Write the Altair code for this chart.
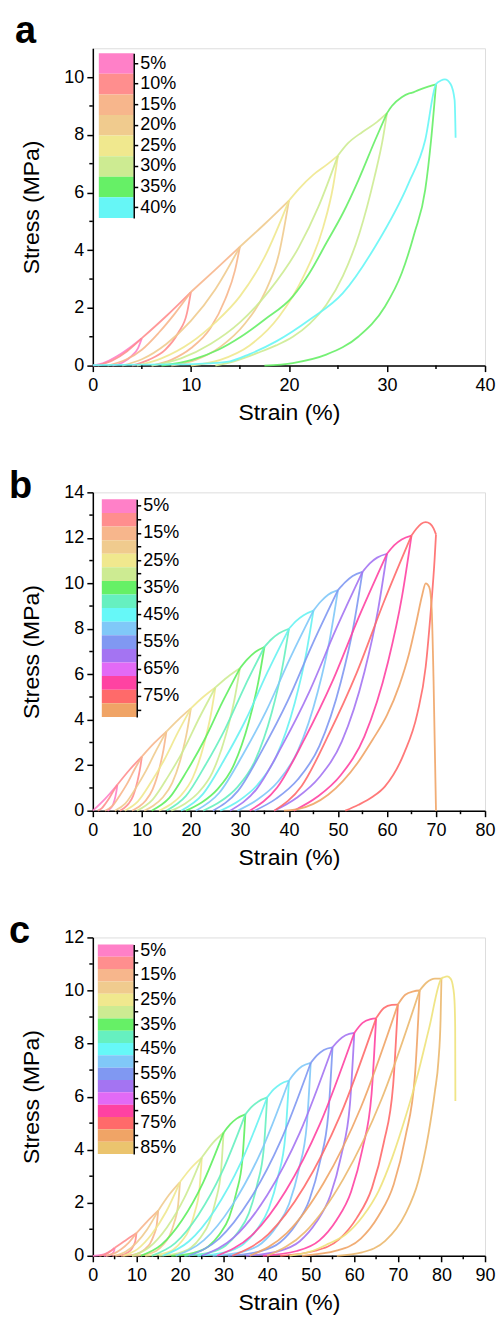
import json
import altair as alt
import pandas as pd

FONT = "Liberation Sans"

# ---------------- Panel a data ----------------
A_LEG_LABELS = ["5%", "10%", "15%", "20%", "25%", "30%", "35%", "40%"]
A_LEG_COLORS = ["#FF80C8", "#FF8E8E", "#F7B68C", "#F0CB8E", "#F0E88E", "#CDEB92", "#66F066", "#66F6F6"]
A_CYCLES = [5, 10, 15, 20, 25, 30, 35]
A_CURVE_COLORS = ["#FF80C8", "#FF8E8E", "#F7B68C", "#F0CB8E", "#F0E88E", "#CDEB92", "#66EE66"]
A_FINAL_COLOR = "#66F6F6"
A_ENV = {
    5: [[0, 0], [1, 0.08], [2.5, 0.33], [4, 0.68], [5, 0.95]],
    10: [[5, 0.95], [7.5, 1.72], [10, 2.55]],
    15: [[10, 2.55], [12.5, 3.33], [15, 4.12]],
    20: [[15, 4.12], [17.5, 4.9], [20, 5.72]],
    25: [[20, 5.72], [21, 6.12], [22.5, 6.62], [24, 7.0], [25, 7.28]],
    30: [[25, 7.28], [26, 7.7], [27.5, 8.1], [29, 8.45], [30, 8.75]],
    35: [[30, 8.75], [30.5, 9.0], [31.5, 9.3], [32.2, 9.43], [32.5, 9.45], [33.2, 9.55], [34.2, 9.67], [35, 9.75]],
}
A_RELOAD = {
    10: [[0.5, 0], [2, 0.18], [3.5, 0.5], [5, 0.95]],
    15: [[1.5, 0], [3.4, 0.21], [5, 0.55], [6.7, 1.13], [8.4, 1.82], [10, 2.55]],
    20: [[3, 0], [5, 0.22], [7.5, 0.75], [10, 1.55], [12.5, 2.65], [15, 4.12]],
    25: [[4.5, 0], [7, 0.25], [10, 0.8], [12.5, 1.5], [15, 2.4], [17.5, 3.75], [20, 5.72]],
    30: [[6, 0], [9, 0.25], [12, 0.75], [15, 1.5], [18, 2.6], [21, 4.1], [23, 5.5], [25, 7.28]],
    35: [[7, 0], [10.1, 0.2], [12.8, 0.55], [15.1, 1.0], [17.5, 1.59], [20.4, 2.4], [22.1, 3.21],
         [23.8, 4.24], [25.5, 5.28], [27.1, 6.44], [28.8, 7.82], [30, 8.75]],
}
A_UNLOAD = {
    5: [[2, 0], [3, 0.1], [4, 0.35], [4.6, 0.6], [5, 0.95]],
    10: [[4, 0], [5.7, 0.2], [7.4, 0.55], [8.7, 1.13], [9.6, 1.82], [10, 2.55]],
    15: [[6, 0], [8, 0.2], [10, 0.6], [12, 1.3], [13.5, 2.3], [14.5, 3.3], [15, 4.12]],
    20: [[8, 0], [10.5, 0.2], [13, 0.65], [15.5, 1.45], [17.5, 2.5], [19, 3.9], [20, 5.72]],
    25: [[10, 0], [13, 0.2], [16, 0.7], [19, 1.7], [21.5, 3.1], [23.5, 4.8], [24.5, 6.2], [25, 7.28]],
    30: [[12.5, 0], [14.4, 0.15], [16.8, 0.44], [18.7, 0.7], [20.4, 1.0], [22.1, 1.45], [23.8, 2.1],
         [25.5, 3.1], [27.2, 4.6], [28.7, 6.5], [29.6, 7.9], [30, 8.75]],
    35: [[17.5, 0], [20.4, 0.09], [23.8, 0.38], [27.1, 1.01], [29.8, 2.05], [31.5, 3.2], [32.8, 4.59],
         [33.9, 6.09], [34.5, 7.82], [35, 9.75]],
}
A_FINAL = [[0, 0.02], [8, 0.04], [12, 0.08], [14, 0.15], [16, 0.4], [18.7, 0.84], [22.1, 1.59], [25.5, 2.51],
           [28.8, 4.13], [32.2, 6.32], [33.9, 7.82], [35, 9.75], [35.5, 9.88], [35.9, 9.92], [36.5, 9.75],
           [36.9, 9.2], [37.0, 7.9]]

# ---------------- Panel b data ----------------
B_LEG_LABELS = ["5%", "10%", "15%", "20%", "25%", "30%", "35%", "40%", "45%", "50%", "55%", "60%",
                "65%", "70%", "75%", "80%"]
B_LEG_COLORS = ["#FF80C8", "#FF8E8E", "#F7B68C", "#F0CB8E", "#F0E88E", "#CDEB92", "#66F066", "#66F0C0",
                "#66F8F8", "#80C8F8", "#8098F2", "#A474F2", "#E26AF6", "#FF42A2", "#FF6A6A", "#F0A466"]
B_LEG_SHOWN = ["5%", "15%", "25%", "35%", "45%", "55%", "65%", "75%"]
B_CYCLES = [5, 10, 15, 20, 25, 30, 35, 40, 45, 50, 55, 60, 65, 70]
B_CURVE_COLORS = ["#FF80C8", "#FF8E8E", "#F7B68C", "#F0CB8E", "#F0E88E", "#CDEB92", "#5EEE5E", "#66F0C0",
                  "#66F2F2", "#80C8F8", "#8098F2", "#A474F2", "#FF42A2", "#FF6A6A"]
B_FINAL_COLOR = "#F0A466"
B_ENV = {
    5: [[0, 0], [2.5, 0.52], [5, 1.14]],
    10: [[5, 1.14], [7.5, 1.8], [10, 2.38]],
    15: [[10, 2.38], [12.5, 2.97], [15, 3.48]],
    20: [[15, 3.48], [17.5, 4.02], [20, 4.5]],
    25: [[20, 4.5], [22.5, 5.0], [25, 5.42]],
    30: [[25, 5.42], [27.5, 5.88], [30, 6.26]],
    35: [[30, 6.26], [31.5, 6.65], [33.2, 6.99], [35, 7.2]],
    40: [[35, 7.2], [36.5, 7.55], [38, 7.8], [40, 8.0]],
    45: [[40, 8.0], [41.5, 8.35], [43, 8.6], [45, 8.8]],
    50: [[45, 8.8], [46.5, 9.2], [48, 9.5], [50, 9.7]],
    55: [[50, 9.7], [51.5, 10.05], [53, 10.32], [55, 10.5]],
    60: [[55, 10.5], [56.5, 10.88], [58, 11.13], [60, 11.3]],
    65: [[60, 11.3], [61.5, 11.68], [63, 11.93], [65, 12.1]],
    70: [[65, 12.1], [66, 12.4], [67, 12.62], [67.9, 12.69], [68.8, 12.62], [69.5, 12.42], [70, 12.15]],
}
B_RELOAD = {
    10: [[1, 0], [1.8, 0.1], [2.6, 0.32], [3.4, 0.57], [4.2, 0.87], [5, 1.14]],
    15: [[2.5, 0], [4, 0.21], [5.5, 0.67], [7, 1.19], [8.5, 1.81], [10, 2.38]],
    20: [[4.5, 0], [6.6, 0.31], [8.7, 0.97], [10.8, 1.74], [12.9, 2.64], [15, 3.48]],
    25: [[6.5, 0], [9.2, 0.41], [11.9, 1.26], [14.6, 2.25], [17.3, 3.42], [20, 4.5]],
    30: [[9, 0], [12.2, 0.49], [15.4, 1.52], [18.6, 2.71], [21.8, 4.12], [25, 5.42]],
    35: [[12, 0], [15.6, 0.56], [19.2, 1.75], [22.8, 3.13], [26.4, 4.76], [30, 6.26]],
    40: [[15, 0], [19, 0.65], [23, 2.02], [27, 3.6], [31, 5.47], [35, 7.2]],
    45: [[18, 0], [22.4, 0.72], [26.8, 2.24], [31.2, 4.0], [35.6, 6.08], [40, 8.0]],
    50: [[21, 0], [25.8, 0.79], [30.6, 2.46], [35.4, 4.4], [40.2, 6.69], [45, 8.8]],
    55: [[24.5, 0], [29.6, 0.87], [34.7, 2.72], [39.8, 4.85], [44.9, 7.37], [50, 9.7]],
    60: [[28, 0], [33.4, 0.95], [38.8, 2.94], [44.2, 5.25], [49.6, 7.98], [55, 10.5]],
    65: [[32, 0], [37.6, 1.02], [43.2, 3.16], [48.8, 5.65], [54.4, 8.59], [60, 11.3]],
    70: [[37, 0], [42.6, 1.09], [48.2, 3.39], [53.8, 6.05], [59.4, 9.2], [65, 12.1]],
}
B_UNLOAD = {
    5: [[3, 0], [3.4, 0.06], [3.8, 0.15], [4.2, 0.31], [4.6, 0.62], [4.84, 0.89], [5, 1.14]],
    10: [[5.5, 0], [6.4, 0.12], [7.3, 0.31], [8.2, 0.64], [9.1, 1.29], [9.64, 1.86], [10, 2.38]],
    15: [[8, 0], [9.4, 0.17], [10.8, 0.45], [12.2, 0.94], [13.6, 1.88], [14.44, 2.71], [15, 3.48]],
    20: [[10.5, 0], [12.4, 0.23], [14.3, 0.59], [16.2, 1.22], [18.1, 2.43], [19.24, 3.51], [20, 4.5]],
    25: [[13.5, 0], [15.8, 0.27], [18.1, 0.7], [20.4, 1.46], [22.7, 2.93], [24.08, 4.23], [25, 5.42]],
    30: [[16, 0], [18.8, 0.31], [21.6, 0.81], [24.4, 1.69], [27.2, 3.38], [28.88, 4.88], [30, 6.26]],
    35: [[19, 0], [22.2, 0.36], [25.4, 0.94], [28.6, 1.94], [31.8, 3.89], [33.72, 5.62], [35, 7.2]],
    40: [[22.5, 0], [26, 0.4], [29.5, 1.04], [33, 2.16], [36.5, 4.32], [38.6, 6.24], [40, 8.0]],
    45: [[26, 0], [29.8, 0.44], [33.6, 1.14], [37.4, 2.38], [41.2, 4.75], [43.48, 6.86], [45, 8.8]],
    50: [[29.5, 0], [33.6, 0.49], [37.7, 1.26], [41.8, 2.62], [45.9, 5.24], [48.36, 7.57], [50, 9.7]],
    55: [[33, 0], [37.4, 0.53], [41.8, 1.37], [46.2, 2.84], [50.6, 5.67], [53.24, 8.19], [55, 10.5]],
    60: [[37, 0], [41.6, 0.57], [46.2, 1.47], [50.8, 3.05], [55.4, 6.1], [58.16, 8.81], [60, 11.3]],
    65: [[41, 0], [45.8, 0.61], [50.6, 1.57], [55.4, 3.27], [60.2, 6.53], [63.08, 9.44], [65, 12.1]],
    70: [[51.5, 0], [54.2, 0.26], [57, 0.6], [59.6, 1.07], [63.5, 2.53], [66.2, 4.28], [67.9, 6.33],
         [69, 8.96], [69.7, 11], [70, 12.15]],
}
B_FINAL = [[39, 0], [42, 0.08], [45, 0.3], [48, 0.7], [51, 1.3], [54, 2.1], [57, 3.1], [60, 4.2],
           [62.5, 5.5], [64.5, 6.9], [66, 8.3], [67.2, 9.5], [67.9, 10.0], [68.6, 9.84], [69.1, 8.96],
           [69.5, 5.75], [70, 0]]

# ---------------- Panel c data ----------------
C_LEG_LABELS = ["5%", "10%", "15%", "20%", "25%", "30%", "35%", "40%", "45%", "50%", "55%", "60%",
                "65%", "70%", "75%", "80%", "85%"]
C_LEG_COLORS = ["#FF80C8", "#FF8E8E", "#F7B68C", "#F0CB8E", "#F0E88E", "#CDEB92", "#66F066", "#66F0C0",
                "#66F8F8", "#80C8F8", "#8098F2", "#A474F2", "#E26AF6", "#FF42A2", "#FF6A6A", "#F0A466",
                "#EBC46E"]
C_LEG_SHOWN = ["5%", "15%", "25%", "35%", "45%", "55%", "65%", "75%", "85%"]
C_CYCLES = [5, 10, 15, 20, 25, 30, 35, 40, 45, 50, 55, 60, 65, 70, 75, 80]
C_CURVE_COLORS = ["#FF80C8", "#FF8E8E", "#F7B68C", "#F0CB8E", "#F0E88E", "#CDEB92", "#5EEE5E", "#66F0C0",
                  "#66F2F2", "#80C8F8", "#8098F2", "#A474F2", "#FF42A2", "#FF6A6A", "#F0A466", "#EBB86E"]
C_FINAL_COLOR = "#EEE27A"
C_ENV = {
    5: [[0, 0], [2, 0.03], [3.5, 0.12], [5, 0.3]],
    10: [[5, 0.3], [7.5, 0.58], [10, 0.85]],
    15: [[10, 0.85], [12.5, 1.3], [15, 1.7]],
    20: [[15, 1.7], [17.5, 2.3], [20, 2.78]],
    25: [[20, 2.78], [22.5, 3.3], [25, 3.7]],
    30: [[25, 3.7], [27.5, 4.25], [30, 4.64]],
    35: [[30, 4.64], [31.5, 4.95], [33, 5.17], [35, 5.33]],
    40: [[35, 5.33], [36.5, 5.62], [38, 5.82], [40, 5.97]],
    45: [[40, 5.97], [41.5, 6.27], [43, 6.47], [45, 6.6]],
    50: [[45, 6.6], [46.5, 6.92], [48, 7.14], [50, 7.27]],
    55: [[50, 7.27], [51.5, 7.56], [53, 7.76], [55, 7.86]],
    60: [[55, 7.86], [56.5, 8.13], [58, 8.31], [60, 8.4]],
    65: [[60, 8.4], [61.9, 8.78], [63.8, 8.92], [65, 8.95]],
    70: [[65, 8.95], [66.8, 9.34], [68.6, 9.46], [70, 9.47]],
    75: [[70, 9.47], [71.7, 9.84], [73.6, 9.97], [75, 10.0]],
    80: [[75, 10.0], [76.6, 10.3], [78.5, 10.45], [80, 10.45]],
}
C_RELOAD = {
    10: [[1.5, 0], [2.4, 0.03], [3.25, 0.09], [4.1, 0.18], [5, 0.3]],
    15: [[3, 0], [4.75, 0.08], [6.5, 0.25], [8.25, 0.5], [10, 0.85]],
    20: [[5, 0], [7.5, 0.15], [10, 0.49], [12.5, 1.0], [15, 1.7]],
    25: [[7, 0], [10.25, 0.25], [13.5, 0.81], [16.75, 1.64], [20, 2.78]],
    30: [[9, 0], [13, 0.33], [17, 1.07], [21, 2.18], [25, 3.7]],
    35: [[11, 0], [15.75, 0.42], [20.5, 1.35], [25.25, 2.74], [30, 4.64]],
    40: [[13.5, 0], [18.9, 0.48], [24.25, 1.55], [29.6, 3.14], [35, 5.33]],
    45: [[16, 0], [22, 0.54], [28, 1.73], [34, 3.52], [40, 5.97]],
    50: [[19, 0], [25.5, 0.59], [32, 1.91], [38.5, 3.89], [45, 6.6]],
    55: [[22, 0], [29, 0.65], [36, 2.11], [43, 4.29], [50, 7.27]],
    60: [[25, 0], [32.5, 0.71], [40, 2.28], [47.5, 4.64], [55, 7.86]],
    65: [[28.5, 0], [36.4, 0.76], [44.25, 2.44], [52.1, 4.96], [60, 8.4]],
    70: [[32, 0], [40.25, 0.81], [48.5, 2.6], [56.75, 5.28], [65, 8.95]],
    75: [[36, 0], [44.5, 0.85], [53, 2.75], [61.5, 5.59], [70, 9.47]],
    80: [[40, 0], [48.75, 0.9], [57.5, 2.9], [66.25, 5.9], [75, 10.0]],
}
C_UNLOAD = {
    5: [[2.5, 0], [3.75, 0.02], [4.45, 0.08], [4.9, 0.2], [5, 0.3]],
    10: [[4.5, 0], [6.15, 0.017], [7.25, 0.055], [8.08, 0.13], [8.79, 0.23], [9.34, 0.38], [9.78, 0.58], [10, 0.85]],
    15: [[6.5, 0], [9.05, 0.034], [10.75, 0.11], [12.03, 0.26], [13.13, 0.46], [13.98, 0.77], [14.66, 1.16], [15, 1.7]],
    20: [[9, 0], [12.3, 0.056], [14.5, 0.18], [16.15, 0.42], [17.58, 0.75], [18.68, 1.25], [19.56, 1.89], [20, 2.78]],
    25: [[12, 0], [15.9, 0.074], [18.5, 0.24], [20.45, 0.56], [22.14, 1.0], [23.44, 1.67], [24.48, 2.52], [25, 3.7]],
    30: [[15, 0], [19.5, 0.093], [22.5, 0.3], [24.75, 0.7], [26.7, 1.25], [28.2, 2.09], [29.4, 3.16], [30, 4.64]],
    35: [[18, 0], [23.1, 0.11], [26.5, 0.35], [29.05, 0.8], [31.26, 1.44], [32.96, 2.4], [34.32, 3.62], [35, 5.33]],
    40: [[21, 0], [26.7, 0.12], [30.5, 0.39], [33.35, 0.9], [35.82, 1.61], [37.72, 2.69], [39.24, 4.06], [40, 5.97]],
    45: [[24, 0], [30.3, 0.13], [34.5, 0.43], [37.65, 0.99], [40.38, 1.78], [42.48, 2.97], [44.16, 4.49], [45, 6.6]],
    50: [[27.5, 0], [34.25, 0.15], [38.75, 0.47], [42.13, 1.09], [45.05, 1.96], [47.3, 3.27], [49.1, 4.94], [50, 7.27]],
    55: [[31, 0], [38.2, 0.16], [43, 0.51], [46.6, 1.18], [49.72, 2.12], [52.12, 3.54], [54.04, 5.34], [55, 7.86]],
    60: [[35, 0], [42.5, 0.17], [47.5, 0.55], [51.25, 1.26], [54.5, 2.27], [57, 3.78], [59, 5.71], [60, 8.4]],
    65: [[39, 0], [46.8, 0.18], [52, 0.58], [55.9, 1.34], [59.28, 2.42], [61.88, 4.03], [63.96, 6.09], [65, 8.95]],
    70: [[43, 0], [51.1, 0.19], [56.5, 0.62], [60.55, 1.42], [64.06, 2.56], [66.76, 4.26], [68.92, 6.44], [70, 9.47]],
    75: [[48, 0], [56.1, 0.2], [61.5, 0.65], [65.55, 1.5], [69.06, 2.7], [71.76, 4.5], [73.92, 6.8], [75, 10.0]],
    80: [[56, 0], [61.8, 0.13], [67.1, 0.56], [71.7, 1.57], [74.7, 2.82], [77, 4.58], [78.5, 6.2], [79.3, 7.33],
         [79.8, 8.9], [80, 10.45]],
}
C_FINAL = [[45, 0], [50.5, 0.19], [54, 0.45], [58, 0.8], [62, 1.5], [65.6, 2.45], [68.7, 3.7], [71.7, 5.2],
           [74.5, 6.8], [77.2, 8.6], [80, 10.45], [80.6, 10.5], [81.3, 10.53], [82.1, 10.45], [82.7, 10.1],
           [83.0, 9.6], [83.15, 8.6], [83.2, 5.83]]


def build_curves(cycles, colors, env, reload, unload, final, final_color):
    recs = []
    cid = 0
    for cyc, col in zip(cycles, colors):
        for pts in (reload.get(cyc), env.get(cyc), unload.get(cyc)):
            if pts is None:
                continue
            for k, (x, y) in enumerate(pts):
                recs.append({"cid": cid, "ord": k, "x": x, "y": y, "col": col})
            cid += 1
    for k, (x, y) in enumerate(final):
        recs.append({"cid": cid, "ord": k, "x": x, "y": y, "col": final_color})
    return pd.DataFrame(recs)


def panel(df, W, H, xmax, ymax, xticks, xminor, yticks, yminor,
          leg_labels, leg_colors, leg_shown, leg_x, leg_y, letter, letter_xy):
    axis_common = dict(labelFontSize=18, titleFontSize=23, titleFontWeight="normal", labelFont=FONT,
                       titleFont=FONT, domainColor="black", domainWidth=1.5, tickColor="black",
                       tickWidth=1.5, tickSize=6, grid=False, labelColor="black", titleColor="black",
                       labelFlush=False, format="d")
    xscale = alt.Scale(domain=[0, xmax], nice=False, zero=False)
    yscale = alt.Scale(domain=[0, ymax], nice=False, zero=False)
    xaxis = alt.Axis(values=xticks, title="Strain (%)", orient="bottom", labelPadding=5,
                     titlePadding=7, **axis_common)
    lines = alt.Chart(df).mark_line(interpolate="monotone", strokeWidth=1.8, opacity=0.9).encode(
        x=alt.X("x:Q", scale=xscale, axis=xaxis),
        y=alt.Y("y:Q", scale=yscale,
                axis=alt.Axis(values=yticks, title="Stress (MPa)", orient="left", labelPadding=3,
                              titlePadding=20, **axis_common)),
        detail="cid:N",
        order="ord:Q",
        color=alt.Color("col:N", scale=None),
    )
    xm = alt.Chart(pd.DataFrame({"x": xminor})).mark_rule(color="black", strokeWidth=1.5).encode(
        x=alt.X("x:Q", scale=xscale, axis=xaxis),
        y=alt.value(H), y2=alt.value(H + 3.5))
    ym = alt.Chart(pd.DataFrame({"y": yminor})).mark_rule(color="black", strokeWidth=1.5).encode(
        y=alt.Y("y:Q", scale=yscale, axis=None),
        x=alt.value(0), x2=alt.value(-3.5))
    leg_df = pd.DataFrame({"lab": leg_labels, "col": leg_colors})
    expr = "indexof(%s, datum.label) >= 0 ? datum.label : ''" % json.dumps(leg_shown)
    legend = alt.Chart(leg_df).mark_rect().encode(
        y=alt.Y("lab:N", sort=leg_labels,
                scale=alt.Scale(domain=leg_labels, range=list(leg_y), paddingInner=0, paddingOuter=0),
                axis=alt.Axis(orient="right", offset=leg_x[1] - W, title=None, labelExpr=expr,
                              labelFontSize=18, labelFont=FONT, labelColor="black", domainColor="black",
                              domainWidth=1.5, tickColor="black", tickWidth=1.5, tickSize=4,
                              labelPadding=2, grid=False)),
        x=alt.value(leg_x[0]), x2=alt.value(leg_x[1]),
        color=alt.Color("col:N", scale=None),
    )
    txt = alt.Chart(pd.DataFrame({"t": [letter]})).mark_text(
        font=FONT, fontSize=38, fontWeight="bold", align="left", baseline="alphabetic", color="black"
    ).encode(text="t:N", x=alt.value(letter_xy[0]), y=alt.value(letter_xy[1]))
    return alt.layer(lines, xm, ym, legend, txt).resolve_scale(y="independent").properties(
        width=W, height=H)


da = build_curves(A_CYCLES, A_CURVE_COLORS, A_ENV, A_RELOAD, A_UNLOAD, A_FINAL, A_FINAL_COLOR)
db = build_curves(B_CYCLES, B_CURVE_COLORS, B_ENV, B_RELOAD, B_UNLOAD, B_FINAL, B_FINAL_COLOR)
dc = build_curves(C_CYCLES, C_CURVE_COLORS, C_ENV, C_RELOAD, C_UNLOAD, C_FINAL, C_FINAL_COLOR)

pa = panel(da, 393, 318, 40, 11, [0, 10, 20, 30, 40], [5, 15, 25, 35], [0, 2, 4, 6, 8, 10], [1, 3, 5, 7, 9],
           A_LEG_LABELS, A_LEG_COLORS, A_LEG_LABELS, (6, 41), (5, 170), "a", (-78, -5))
pb = panel(db, 393, 319, 80, 14, list(range(0, 81, 10)), list(range(5, 80, 10)), list(range(0, 15, 2)),
           list(range(1, 14, 2)), B_LEG_LABELS, B_LEG_COLORS, B_LEG_SHOWN, (9, 44), (7, 225), "b", (-84, 6))
pc = panel(dc, 393, 319, 90, 12, list(range(0, 91, 10)), list(range(5, 90, 10)), list(range(0, 13, 2)),
           list(range(1, 12, 2)), C_LEG_LABELS, C_LEG_COLORS, C_LEG_SHOWN, (5, 41), (7, 217), "c", (-84, 6))

chart = alt.vconcat(pa, pb, pc, spacing=42).properties(
    padding={"left": 0, "top": 3, "right": 0, "bottom": 0}
).configure_view(stroke="black", strokeWidth=1.5).configure(font=FONT)

chart.save("out.html", embed_options={"renderer": "svg", "actions": False})
